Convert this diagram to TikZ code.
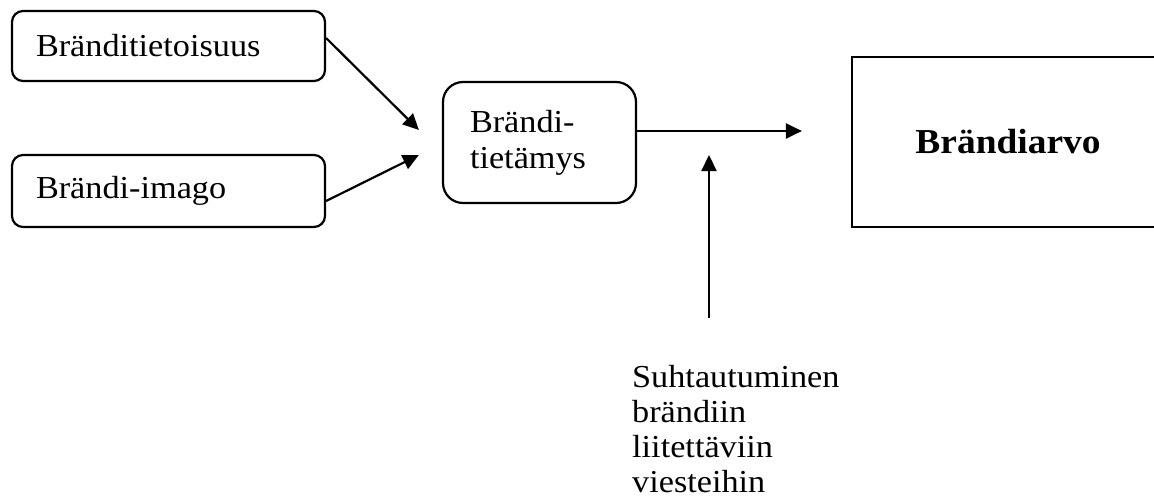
\documentclass[tikz,border=0pt]{standalone}
\usepackage{fontspec}
\setmainfont{Liberation Serif}[FakeStretch=1.07]
\usetikzlibrary{arrows.meta}
\tikzset{
  box/.style={draw, line width=2.2pt, rounded corners=11pt, align=left,
    font=\fontsize{32}{36}\selectfont, inner ysep=0pt},
  plainbox/.style={draw, line width=2.2pt, align=center,
    font=\fontsize{35}{40}\selectfont\bfseries},
  label/.style={align=left, inner sep=0pt, font=\fontsize{32}{35}\selectfont},
  arr/.style={line width=2.2pt, -{Triangle[length=16pt,width=15pt]}}
}
\begin{document}
\begin{tikzpicture}[x=1pt, y=-1pt]
\clip (0,0) rectangle (1154,501);
\fill[white] (0,0) rectangle (1154,501);

% input boxes
\node[box, minimum width=313pt, minimum height=70pt, text width=265pt, inner xsep=24pt]
  (b1) at (168.5,46) {Bränditietoisuus};
\node[box, minimum width=313pt, minimum height=72pt, text width=265pt, inner xsep=24pt]
  (b2) at (168.5,191) {Brändi-imago};

% middle box
\node[box, rounded corners=20pt, minimum width=193pt, minimum height=121pt,
  text width=139pt, inner xsep=27pt]
  (b3) at (539.5,142.5) {Brändi-\\tietämys};

% outcome box, running off the right edge
\node[plainbox, minimum width=312pt, minimum height=170pt] (b4) at (1008,142) {Brändiarvo};

% moderating factor
\node[label, anchor=north west] (m) at (632,365)
  {Suhtautuminen\\brändiin\\liitettäviin\\viesteihin};
\coordinate (mtop) at (709,318);
\coordinate (mtip) at (709,155);

% connectors
\draw[arr] ([yshift=8pt]b1.east) -- ([xshift=-23pt,yshift=12.5pt]b3.west);
\draw[arr] ([yshift=-10pt]b2.east) -- ([xshift=-23pt,yshift=-12.5pt]b3.west);
\draw[arr] ([yshift=11.5pt]b3.east) -- ([xshift=-49pt,yshift=11pt]b4.west);
\draw[arr] (mtop) -- (mtip);
\end{tikzpicture}
\end{document}
